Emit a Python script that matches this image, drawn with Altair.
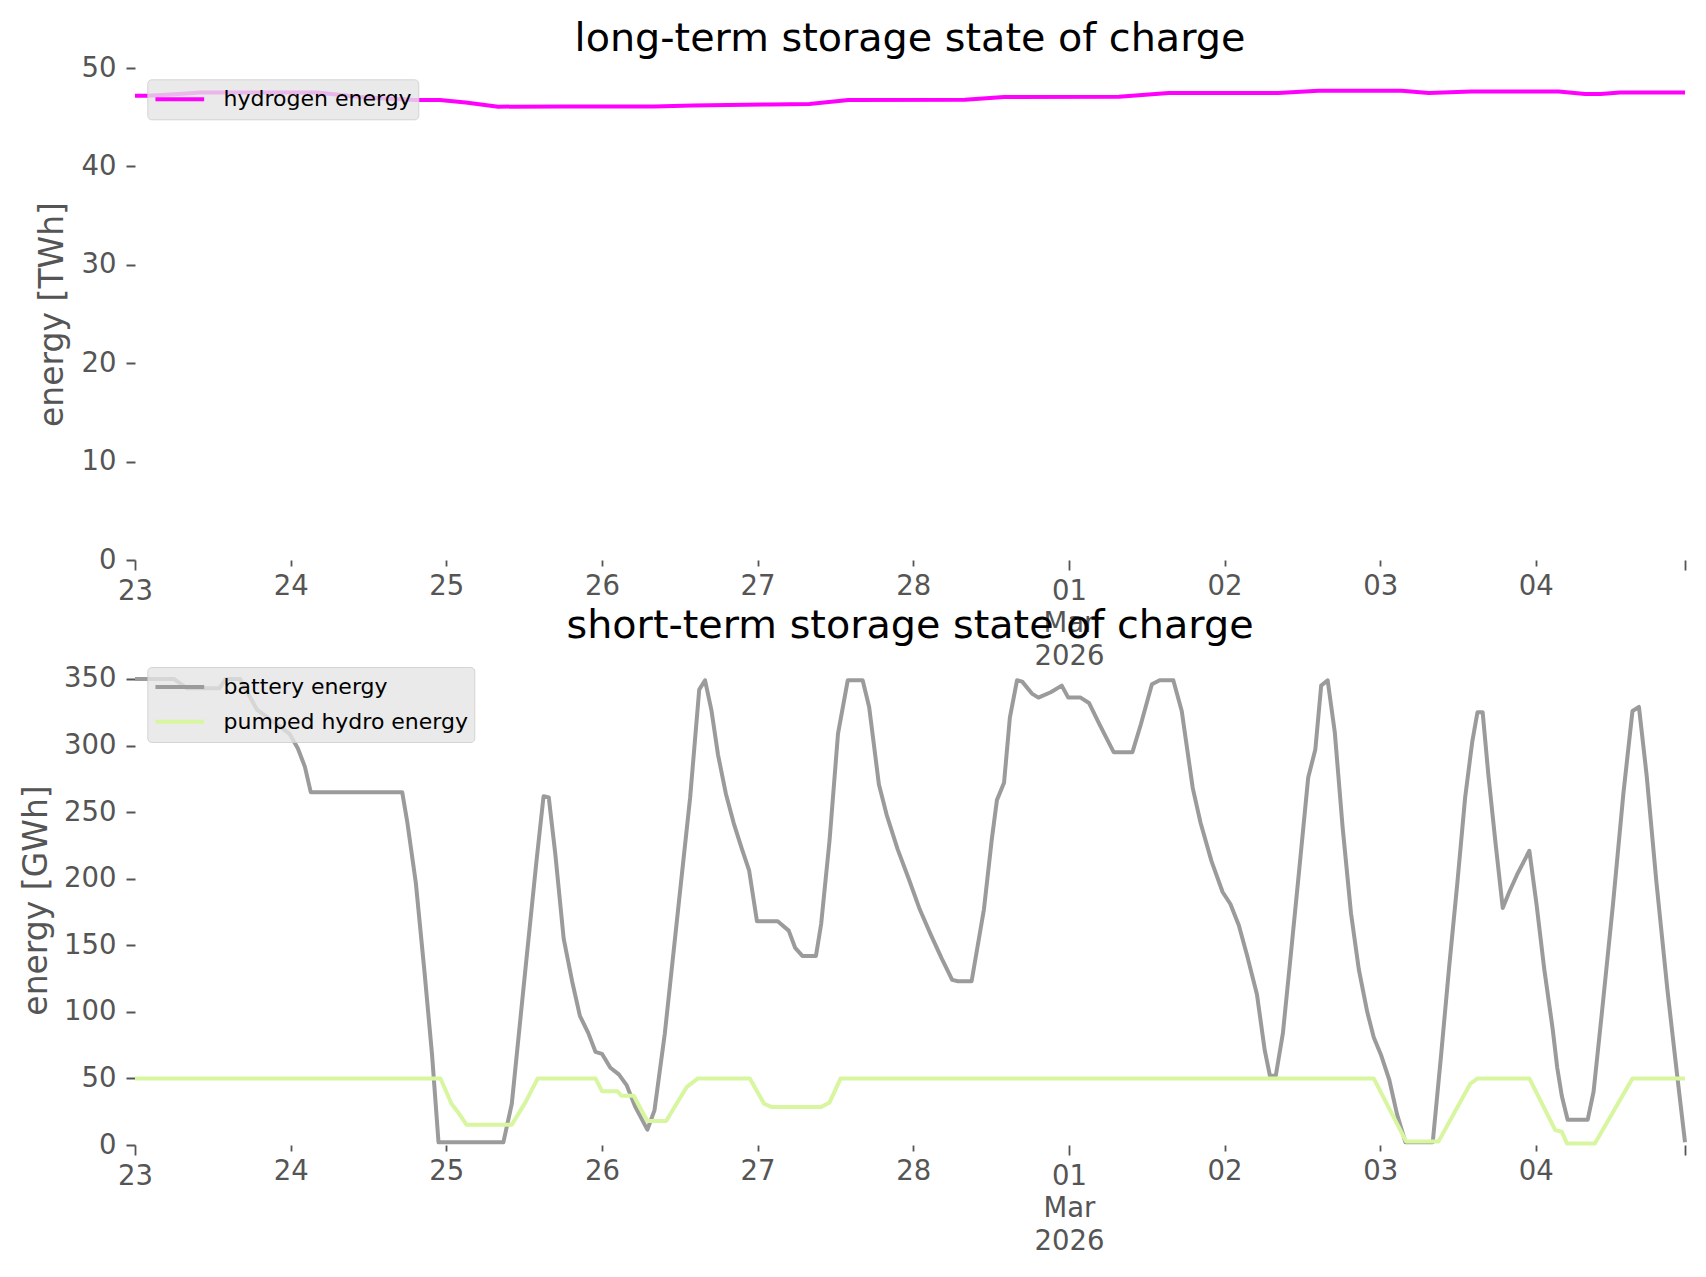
import altair as alt
import pandas as pd

START = "2026-02-23 00:00"

# ---- data (hours since START, value) ----
hydrogen_hours = [0, 2, 8, 10, 28, 35.6, 43.3, 47, 51, 56, 66, 80, 86, 98, 104, 110, 128, 134,
                  151.7, 159.4, 176.3, 182.5, 195.3, 199.5, 206.1, 219.5, 223.6, 226, 229, 239]
hydrogen_twh = [47.18, 47.18, 47.4, 47.5, 47.5, 47.0, 46.75, 46.75, 46.5, 46.07, 46.1, 46.1, 46.2,
                46.3, 46.34, 46.75, 46.78, 47.05, 47.08, 47.45, 47.45, 47.69, 47.69, 47.45, 47.62,
                47.62, 47.36, 47.36, 47.5, 47.5]

battery_hours = [0, 6, 8, 13, 14, 16.2, 18.8, 23.8, 25.1, 26.2, 27.1, 41.2, 42, 43.3, 44.6, 45.8,
                 46.8, 56.8, 58.1, 60.2, 61.9, 63, 63.8, 64.8, 66.1, 67.4, 68.6, 69.9, 71, 72, 73.3,
                 74.6, 75.8, 77.1, 79, 80.1, 81.7, 83.9, 85.6, 87, 87.9, 88.9, 89.9, 91.1, 92.3,
                 93.6, 94.7, 95.9, 99.1, 100.8, 101.8, 102.9, 105, 105.8, 107.1, 108.4, 109.9,
                 112.2, 113.2, 114.7, 115.9, 117.6, 119.3, 121, 122.7, 124.4, 126, 126.9, 129,
                 130.9, 132.1, 132.9, 134, 134.9, 136, 136.8, 138.3, 139.3, 141.2, 142.9, 143.9,
                 145.8, 147.1, 148.7, 150.9, 153.8, 155.1, 156.8, 158, 160.1, 161.4, 163.1, 164.3,
                 166, 167.7, 168.9, 170.2, 171.5, 173, 174.2, 175, 175.9, 177, 178.2, 179.5, 180.9,
                 182, 182.9, 183.9, 185, 186.2, 187.5, 188.7, 190, 191, 192.1, 193.4, 194.6, 195.9,
                 200.1, 201.4, 202.6, 203.9, 205.1, 206.2, 207, 207.8, 208.7, 209.8, 210.9, 211.9,
                 213.1, 215, 216.1, 217.3, 218.6, 219.3, 220, 220.9, 224, 224.9, 226.2, 227.9,
                 229.5, 230.9, 231.9, 233.1, 234.6, 236.3, 237.8, 239]
battery_gwh = [350, 350, 343, 343, 350, 350, 327, 309, 298, 284, 265, 265, 242, 197, 132, 68,
               2, 2, 31, 132, 213, 262, 261, 219, 155, 123, 97, 84, 70, 68.5, 58,
               53, 45, 29, 11.5, 26, 84, 184, 261, 342, 349, 326, 293, 264, 242,
               222, 206, 168, 168, 161, 148, 142, 142, 166, 229, 309, 349,
               349, 329, 271, 248, 222, 200, 177, 158, 140, 124, 123, 123,
               177, 229, 259, 272, 321, 349, 348, 339, 336, 340, 345, 336,
               336, 332, 316, 295, 295, 316, 346, 349, 349, 326, 268, 242,
               213, 190, 181, 165, 142, 113, 71, 52, 52, 84, 142, 206, 276,
               297, 345, 349, 310, 239, 174, 132, 100, 81, 68, 49, 23, 2,
               2, 68, 132, 197, 261, 303, 325, 325, 277, 226, 178, 190,
               203, 221, 181, 132, 87, 58, 37, 19, 19, 40, 100, 181,
               264, 326, 329, 277, 197, 116, 52, 2]

phs_hours = [0, 47.1, 48.8, 49.9, 51.1, 58.1, 60.2, 62.1, 71, 72, 74.4, 75, 76.9, 79, 81.9, 85.1,
             86.8, 94.8, 97, 98.2, 105.8, 107.1, 108.8, 191, 196, 201, 205.9, 207, 215, 219, 220,
             220.8, 225.1, 230.9, 239]
phs_gwh = [50, 50, 31, 24, 15.3, 15.3, 32, 50, 50, 40.4, 40.4, 37, 37, 18, 18, 43.7,
           50, 50, 31, 28.5, 28.5, 32, 50, 50, 2.7, 2.7, 46, 50, 50, 11.2, 10,
           1.2, 1.2, 50, 50]

long_series = ["hydrogen energy"]
long_colors = ["#ff00ff"]
short_series = ["battery energy", "pumped hydro energy"]
short_colors = ["#9b9b9b", "#d8f5a0"]

tick_days = ["2026-02-23", "2026-02-24", "2026-02-25", "2026-02-26", "2026-02-27",
             "2026-02-28", "2026-03-01", "2026-03-02", "2026-03-03", "2026-03-04",
             "2026-03-04 23:00"]
y_ticks_long = [0, 10, 20, 30, 40, 50]
y_ticks_short = [0, 50, 100, 150, 200, 250, 300, 350]


def iso(hours):
    base = pd.Timestamp(START)
    return [(base + pd.Timedelta(hours=h)).strftime("%Y-%m-%dT%H:%M:%S") for h in hours]


def dt(ts):
    t = pd.Timestamp(ts)
    return alt.DateTime(year=t.year, month=t.month, date=t.day, hours=t.hour)


h2_df = pd.DataFrame({"time": iso(hydrogen_hours), "value": hydrogen_twh,
                      "series": long_series[0]})
short_df = pd.concat([
    pd.DataFrame({"time": iso(battery_hours), "value": battery_gwh, "series": short_series[0]}),
    pd.DataFrame({"time": iso(phs_hours), "value": phs_gwh, "series": short_series[1]}),
], ignore_index=True)

FONT = "DejaVu Sans"
GREY = "#555555"
W = 1550
H_TOP = 492
H_BOT = 490

MAJOR = "date(datum.value) == 1 || date(datum.value) == 23 || hours(datum.value) == 23"

x_scale = alt.Scale(domain=[dt(tick_days[0]), dt(tick_days[-1])], nice=False)
x_axis = alt.Axis(
    values=[dt(d) for d in tick_days],
    title=None, domain=False, grid=False,
    tickColor=GREY, tickWidth=1.8,
    tickSize={"condition": {"test": MAJOR, "value": 10}, "value": 6},
    labelPadding={"condition": {"test": MAJOR, "value": 7.5}, "value": 6},
    labelExpr=("date(datum.value) == 1 ? [timeFormat(datum.value, '%d'), timeFormat(datum.value, '%b'), "
               "timeFormat(datum.value, '%Y')] : (hours(datum.value) == 23 ? '' : timeFormat(datum.value, '%d'))"),
    labelFont=FONT, labelFontSize=27.5, labelColor=GREY, labelAngle=0,
    labelAlign="center", labelBaseline="top", labelLineHeight=32.4,
    labelFlush=False, labelOverlap=False, labelLimit=300,
)


def y_axis(values, title_x, height, title):
    return alt.Axis(
        values=values, title=title, domain=False, grid=False,
        tickColor=GREY, tickWidth=2, tickSize=9, labelPadding=10,
        labelFont=FONT, labelFontSize=27.5, labelColor=GREY,
        labelFlush=False, labelOverlap=False,
        titleFont=FONT, titleFontSize=33, titleColor=GREY, titleFontWeight="normal",
        titleAngle=270, titleAlign="center", titleBaseline="middle",
        titleX=title_x, titleY=height / 2,
    )


def legend(x, y):
    return alt.Legend(
        title=None, orient="none", legendX=x, legendY=y, direction="vertical",
        symbolType="stroke", symbolSize=2372, symbolStrokeWidth=4, symbolOffset=0,
        clipHeight=28, rowPadding=6.7, labelOffset=17.3,
        labelFont=FONT, labelFontSize=22, labelColor="black", labelLimit=400,
        padding=6, fillColor="rgba(229,229,229,0.8)", strokeColor="rgba(204,204,204,0.8)",
        cornerRadius=4,
    )


def title(text, offset):
    return alt.TitleParams(text, font=FONT, fontSize=39.7, fontWeight="normal", color="black",
                           anchor="middle", baseline="alphabetic", offset=offset, frame="group")


top = alt.Chart(h2_df).mark_line(strokeWidth=4, strokeJoin="round").encode(
    x=alt.X("time:T", scale=x_scale, axis=x_axis),
    y=alt.Y("value:Q", scale=alt.Scale(domain=[0, 50], nice=False),
            axis=y_axis(y_ticks_long, -83, H_TOP, "energy [TWh]")),
    color=alt.Color("series:N", scale=alt.Scale(domain=long_series, range=long_colors),
                    legend=legend(12.3, 11.3)),
).properties(width=W, height=H_TOP, title=title("long-term storage state of charge", -37))

bottom = alt.Chart(short_df).mark_line(strokeWidth=4, strokeJoin="round").encode(
    x=alt.X("time:T", scale=x_scale, axis=x_axis),
    y=alt.Y("value:Q", scale=alt.Scale(domain=[0, 368], nice=False),
            axis=y_axis(y_ticks_short, -99, H_BOT, "energy [GWh]")),
    color=alt.Color("series:N", scale=alt.Scale(domain=short_series, range=short_colors),
                    legend=legend(12.3, 12)),
).properties(width=W, height=H_BOT, title=title("short-term storage state of charge", -23))

chart = alt.vconcat(top, bottom, spacing=95, bounds="flush").resolve_scale(
    color="independent"
).properties(
    padding={"left": 12, "top": 11, "right": 5, "bottom": 5},
    background="white",
).configure(font=FONT).configure_view(stroke=None)

chart.save("out.html", embed_options={"renderer": "svg", "actions": False})
